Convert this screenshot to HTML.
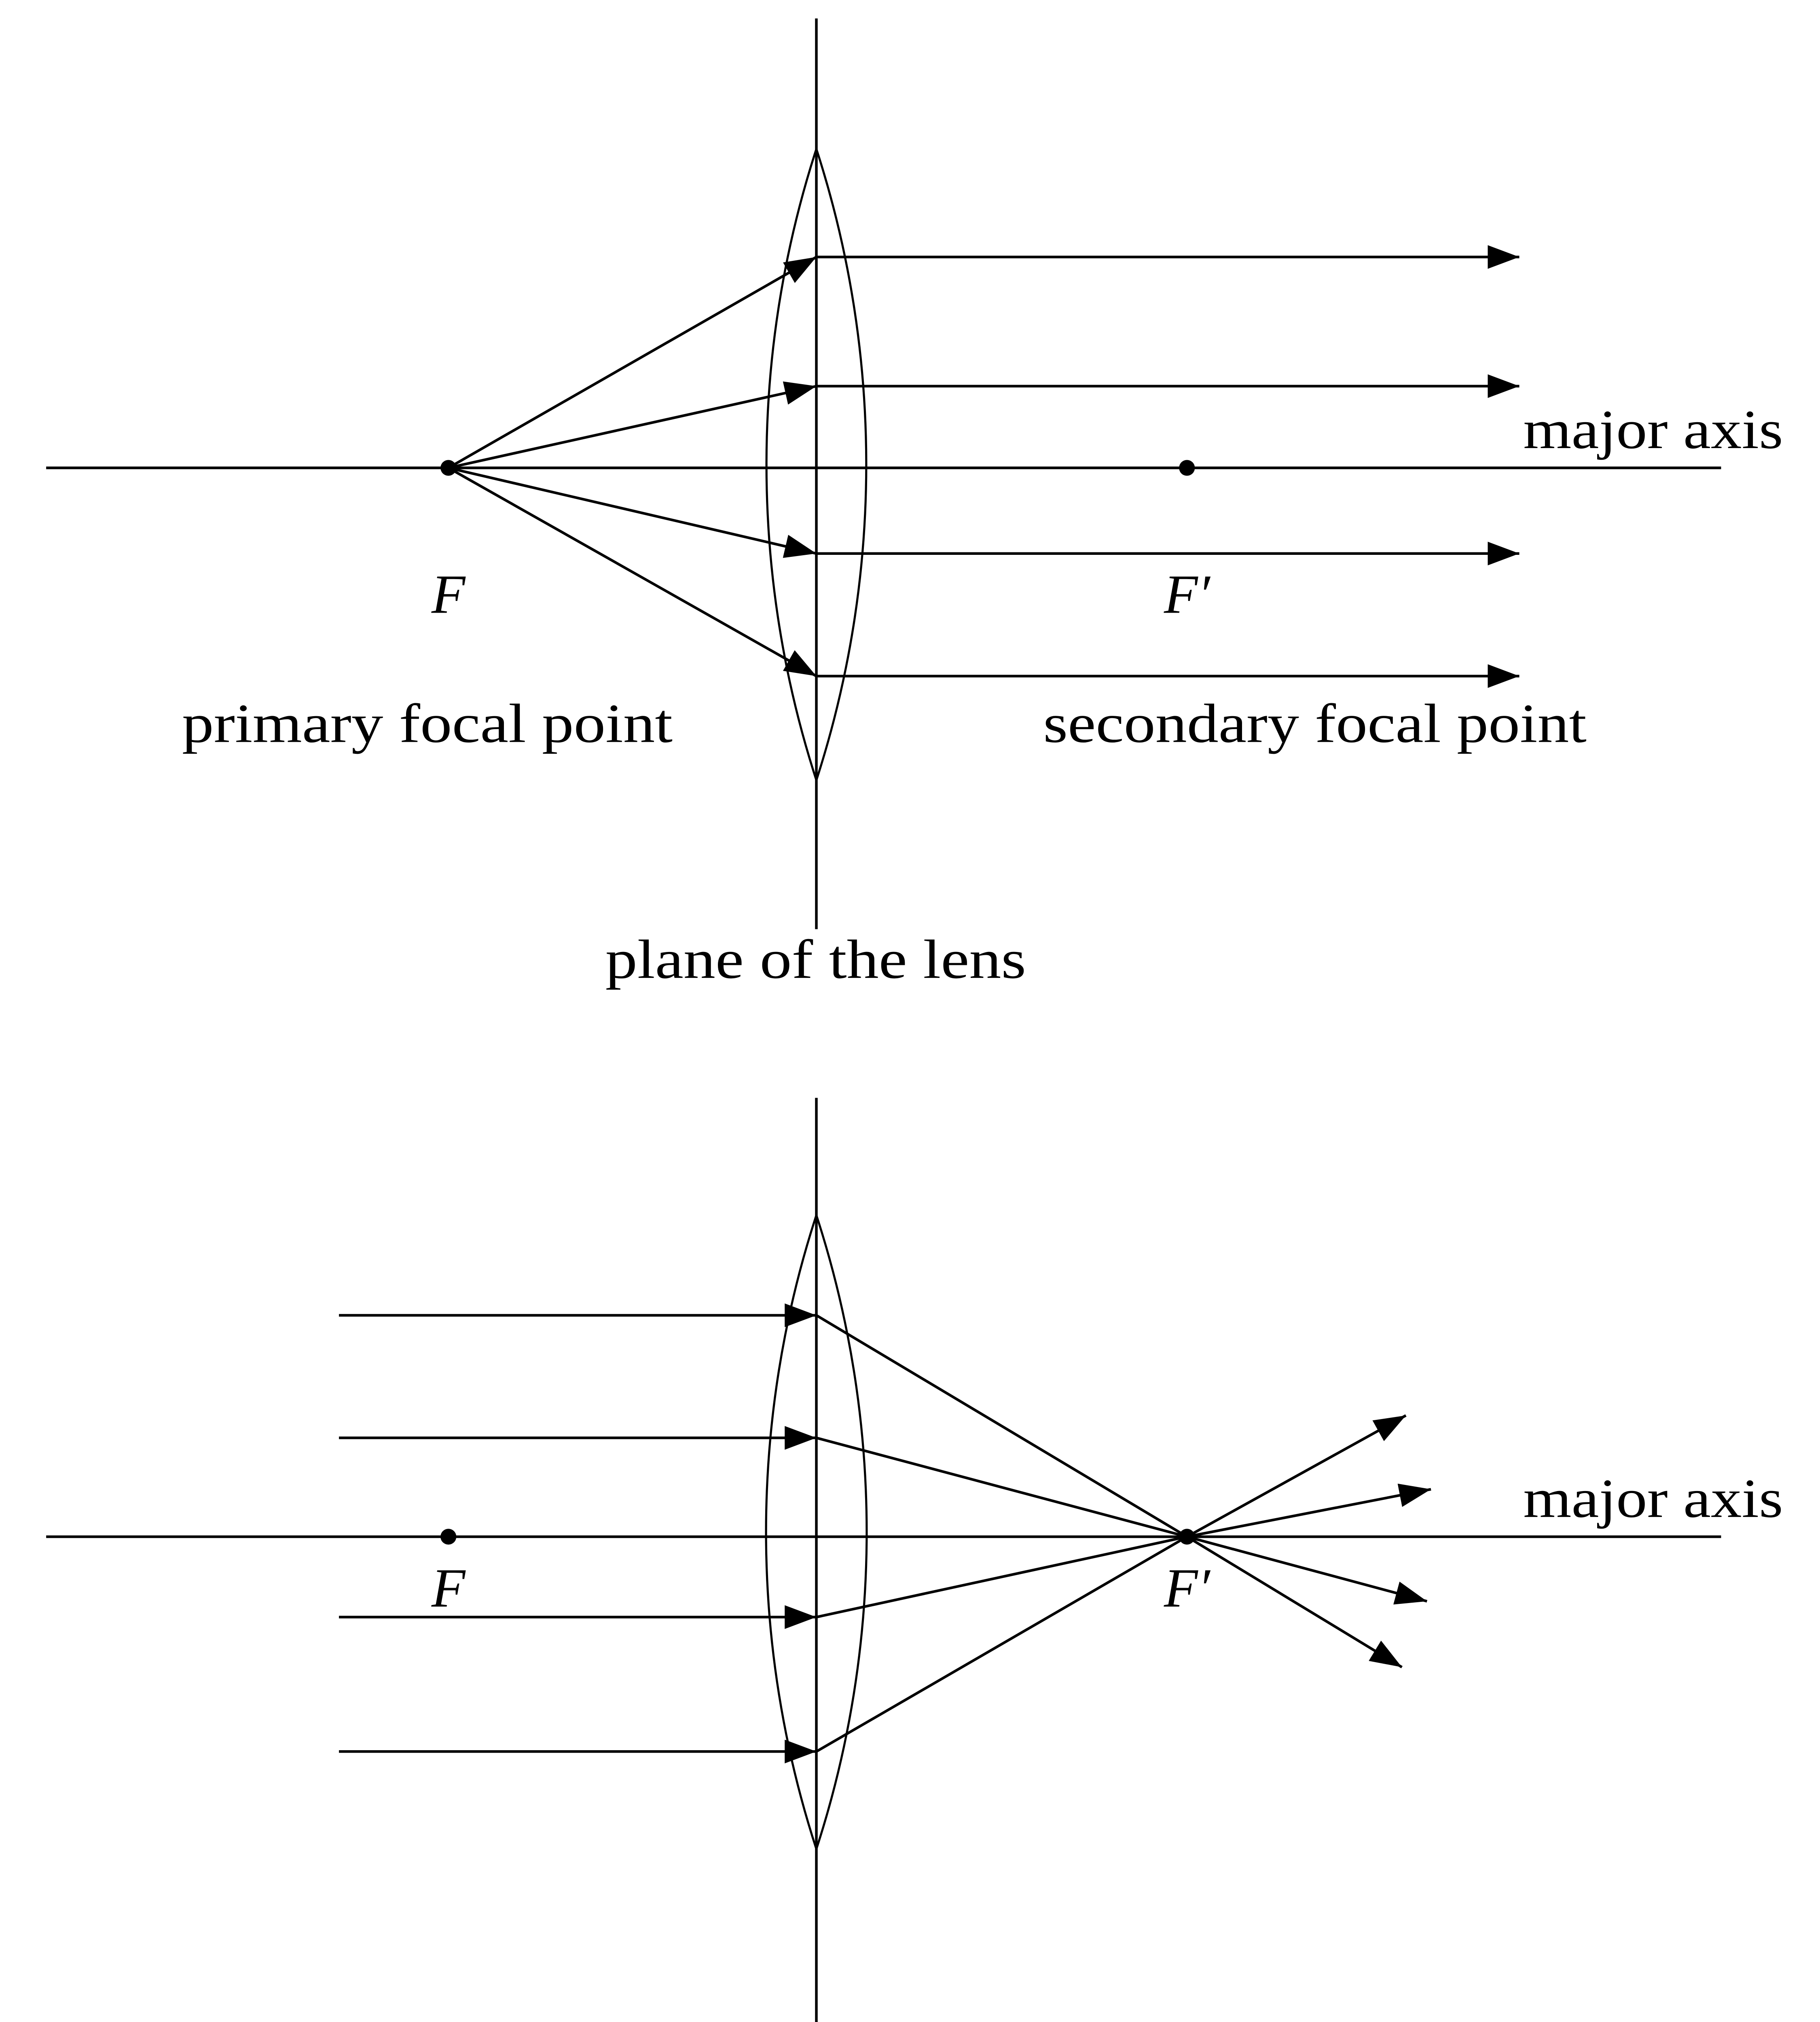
<!DOCTYPE html>
<html><head><style>html,body{margin:0;padding:0;background:#fff;overflow:hidden;width:4500px;height:5084px}svg{display:block}</style></head>
<body>
<svg xmlns="http://www.w3.org/2000/svg" width="4500" height="5084" viewBox="0 0 1380 1560" preserveAspectRatio="none">
<defs>
<marker id="a" viewBox="0 0 24 18" refX="24" refY="9" markerWidth="24" markerHeight="18" markerUnits="userSpaceOnUse" orient="auto">
<path d="M0,0 L24,9 L0,18 Z" fill="#000"/></marker>
</defs>
<g stroke="#000" stroke-width="2" fill="none">
<!-- top -->
<line x1="619" y1="14" x2="619" y2="705"/>
<line x1="35" y1="355" x2="1305" y2="355"/>
<path d="M619,113 A777,777 0 0 0 619,592 A777,777 0 0 0 619,113 Z" stroke-width="1.6"/>
<line x1="340" y1="355" x2="619" y2="195" marker-end="url(#a)"/>
<line x1="340" y1="355" x2="619" y2="293" marker-end="url(#a)"/>
<line x1="340" y1="355" x2="619" y2="420" marker-end="url(#a)"/>
<line x1="340" y1="355" x2="619" y2="513" marker-end="url(#a)"/>
<line x1="619" y1="195" x2="1152" y2="195" marker-end="url(#a)"/>
<line x1="619" y1="293" x2="1152" y2="293" marker-end="url(#a)"/>
<line x1="619" y1="420" x2="1152" y2="420" marker-end="url(#a)"/>
<line x1="619" y1="513" x2="1152" y2="513" marker-end="url(#a)"/>
<!-- bottom -->
<line x1="619" y1="833" x2="619" y2="1550"/>
<line x1="35" y1="1166" x2="1305" y2="1166"/>
<path d="M619,922 A777,777 0 0 0 619,1403 A777,777 0 0 0 619,922 Z" stroke-width="1.6"/>
<line x1="257" y1="998" x2="619" y2="998" marker-end="url(#a)"/>
<line x1="257" y1="1091" x2="619" y2="1091" marker-end="url(#a)"/>
<line x1="257" y1="1227" x2="619" y2="1227" marker-end="url(#a)"/>
<line x1="257" y1="1329" x2="619" y2="1329" marker-end="url(#a)"/>
<line x1="619" y1="998" x2="900" y2="1166"/>
<line x1="619" y1="1091" x2="900" y2="1166"/>
<line x1="619" y1="1227" x2="900" y2="1166"/>
<line x1="619" y1="1329" x2="900" y2="1166"/>
<line x1="900" y1="1166" x2="1066" y2="1074" marker-end="url(#a)"/>
<line x1="900" y1="1166" x2="1085" y2="1130" marker-end="url(#a)"/>
<line x1="900" y1="1166" x2="1082" y2="1215" marker-end="url(#a)"/>
<line x1="900" y1="1166" x2="1063" y2="1265" marker-end="url(#a)"/>
</g>
<g fill="#000">
<circle cx="340" cy="355" r="6"/><circle cx="900" cy="355" r="6"/>
<circle cx="340" cy="1166" r="6"/><circle cx="900" cy="1166" r="6"/>
</g>
<g font-family="'Liberation Serif', serif" font-size="42" fill="#000">
<text x="1155" y="340" textLength="197" lengthAdjust="spacingAndGlyphs">major axis</text>
<text x="340" y="465" text-anchor="middle" font-style="italic">F</text>
<text x="900" y="465" text-anchor="middle" font-style="italic">F′</text>
<text x="138" y="563" textLength="372" lengthAdjust="spacingAndGlyphs">primary focal point</text>
<text x="791" y="563" textLength="412" lengthAdjust="spacingAndGlyphs">secondary focal point</text>
<text x="459" y="742" textLength="319" lengthAdjust="spacingAndGlyphs">plane of the lens</text>
<text x="1155" y="1151" textLength="197" lengthAdjust="spacingAndGlyphs">major axis</text>
<text x="340" y="1219" text-anchor="middle" font-style="italic">F</text>
<text x="900" y="1219" text-anchor="middle" font-style="italic">F′</text>
</g>
</svg>
</body></html>
